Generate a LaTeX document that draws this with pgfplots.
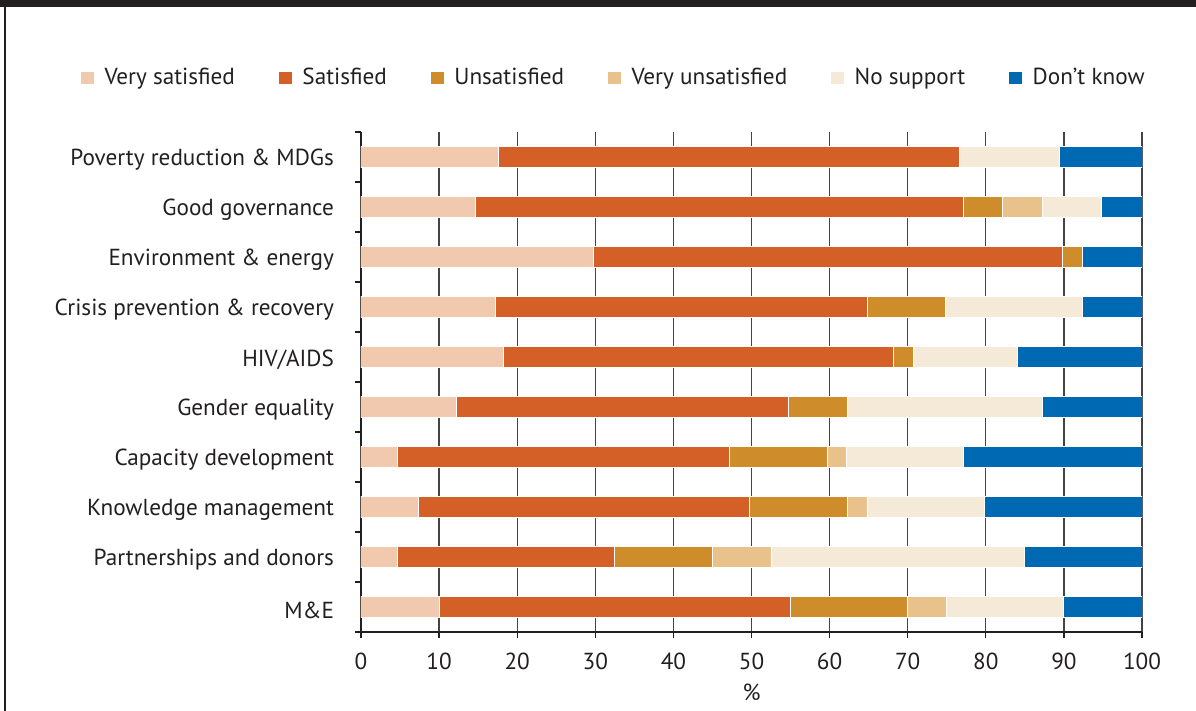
\documentclass[border=0pt]{standalone}
\usepackage{fontspec}
\setmainfont{PT Sans}
\usepackage{pgfplots}
\pgfplotsset{compat=1.18}
\definecolor{cVS}{HTML}{F0C9AE}
\definecolor{cS}{HTML}{D45F27}
\definecolor{cU}{HTML}{CF8C2A}
\definecolor{cVU}{HTML}{E8C18B}
\definecolor{cNS}{HTML}{F5E9D7}
\definecolor{cDK}{HTML}{0069B3}
\definecolor{txt}{HTML}{231F20}
\definecolor{gridc}{HTML}{444444}
\pgfplotsset{leg/.style={legend image code/.code={\fill[##1,draw=none] (0bp,-3.2bp) rectangle (6.5bp,3.2bp); \path (9.5bp,0bp);}}}
\begin{document}
\begin{tikzpicture}[font=\fontsize{11.6bp}{13.5bp}\selectfont, text=txt]
\useasboundingbox (-180.5bp,-39.5bp) rectangle (417.5bp,316bp);
\fill[txt] (-180.5bp,312.5bp) rectangle (417.5bp,316bp);
\draw[txt, line width=1bp] (-178bp,-39.5bp) -- (-178bp,312.5bp);
\begin{axis}[
  scale only axis, width=390.5bp, height=250bp,
  xbar stacked, bar width=10.5bp,
  xmin=0, xmax=100, ymin=-0.5, ymax=9.5,
  axis x line*=bottom, axis y line*=left,
  axis line style={color=txt, line width=0.6bp},
  xtick={0,10,...,100},
  ytick={-0.5,0.5,...,9.5},
  y tick label as interval,
  yticklabels={M\&E,Partnerships and donors,Knowledge management,Capacity development,Gender equality,HIV/AIDS,Crisis prevention \& recovery,Environment \& energy,Good governance,Poverty reduction \& MDGs},
  y tick label style={xshift=-7bp, yshift=-1.5bp},
  x tick label style={yshift=-4bp},
  tick align=outside, major tick length=3bp,
  tick style={color=txt, line width=0.6bp},
  xmajorgrids, grid style={color=gridc, line width=0.6bp},
  /pgf/number format/assume math mode=true,
  xlabel={\%},
  xlabel style={yshift=0bp},
  legend columns=6,
  legend style={at={(0.325,1.108)}, anchor=center, draw=none, fill=none,
    /tikz/every even column/.append style={column sep=20bp}},
  legend cell align=left,
]
\addplot[leg, fill=cVS, draw=white, line width=0.5bp] coordinates {(17.6,9) (14.7,8) (29.8,7) (17.2,6) (18.2,5) (12.2,4) (4.7,3) (7.3,2) (4.7,1) (10,0)};
\addplot[leg, fill=cS, draw=white, line width=0.5bp] coordinates {(59.0,9) (62.5,8) (60.0,7) (47.6,6) (50.0,5) (42.6,4) (42.5,3) (42.5,2) (27.8,1) (45,0)};
\addplot[leg, fill=cU, draw=white, line width=0.5bp] coordinates {(0,9) (5,8) (2.6,7) (10,6) (2.6,5) (7.5,4) (12.5,3) (12.5,2) (12.5,1) (15,0)};
\addplot[leg, fill=cVU, draw=white, line width=0.5bp] coordinates {(0,9) (5,8) (0,7) (0,6) (0,5) (0,4) (2.5,3) (2.5,2) (7.5,1) (5,0)};
\addplot[leg, fill=cNS, draw=white, line width=0.5bp] coordinates {(12.9,9) (7.6,8) (0,7) (17.6,6) (13.2,5) (25,4) (15,3) (15,2) (32.5,1) (15,0)};
\addplot[leg, fill=cDK, draw=white, line width=0.5bp] coordinates {(10.5,9) (5.2,8) (7.6,7) (7.6,6) (16,5) (12.7,4) (22.8,3) (20.2,2) (15,1) (10,0)};
\legend{Very satisfied,Satisfied,Unsatisfied,Very unsatisfied,No support,Don’t know}
\end{axis}
\end{tikzpicture}
\end{document}
